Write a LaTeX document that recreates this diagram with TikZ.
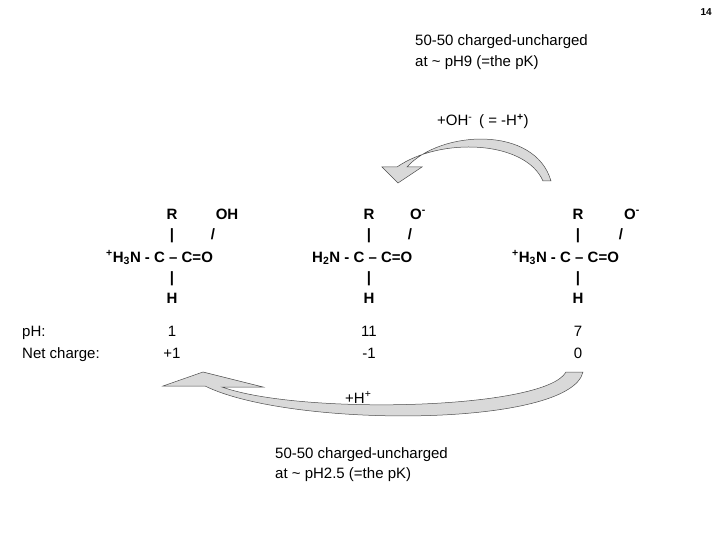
\documentclass[tikz,border=0pt]{standalone}
\usepackage{fontspec}
\setmainfont{Liberation Sans}
\begin{document}
\begin{tikzpicture}[x=1pt,y=-1pt,
  t/.style={inner sep=0pt,anchor=base west,font=\fontsize{15}{18}\selectfont},
  b/.style={inner sep=0pt,anchor=base,font=\bfseries\fontsize{15}{18}\selectfont},
  v/.style={inner sep=0pt,anchor=base,font=\fontsize{15}{18}\selectfont},
  arr/.style={draw=black!70,line width=0.5pt,fill=gray!30}]
\useasboundingbox (0,0) rectangle (720,540);
\node[inner sep=0pt,anchor=base east,font=\bfseries\fontsize{10}{12}\selectfont] (pg) at (712,16) {14};
\node[t] (t1) at (415,46) {50-50 charged-uncharged};
\node[t] (t2) at (415,67) {at \textasciitilde{} pH9 (=the pK)};
\node[t] (oh) at (437,126) {+OH\textsuperscript{-}\, ( = -H\textsuperscript{\textbf{+}})};
% top arrow
\filldraw[arr] (382,167) -- (398,183) -- (422,167) -- (407,167) .. controls (440,130) and (535,125) .. (551,181) -- (543,181) .. controls (525,140) and (440,137) .. (397,167) -- cycle;
% bottom arrow
\filldraw[arr] (163,386) -- (203,372) -- (263,387) -- (222,387) .. controls (300,415) and (545,410) .. (566,372) -- (583,372) .. controls (570,428) and (290,428) .. (205,386) -- cycle;
% left molecule
\node[b] (aR) at (172,219) {R};
\node[b] (aOH) at (227,219) {OH};
\node[b] (ab1) at (172,240) {|};
\node[b] (as1) at (213,240) {/};
\node[b,anchor=base west] (aM) at (106,262) {\textsuperscript{+}H\textsubscript{3}N - C -- C=O};
\node[b] (ab2) at (172,282) {|};
\node[b] (aH) at (172,303) {H};
% middle
\node[b] (bR) at (369,219) {R};
\node[b] (bO) at (418,219) {O\textsuperscript{-}};
\node[b] (bb1) at (369,240) {|};
\node[b] (bs1) at (410,240) {/};
\node[b,anchor=base west] (bM) at (312,262) {H\textsubscript{2}N - C -- C=O};
\node[b] (bb2) at (369,282) {|};
\node[b] (bH) at (369,303) {H};
% right
\node[b] (cR) at (578,219) {R};
\node[b] (cO) at (632,219) {O\textsuperscript{-}};
\node[b] (cb1) at (578,240) {|};
\node[b] (cs1) at (621,240) {/};
\node[b,anchor=base west] (cM) at (512,262) {\textsuperscript{+}H\textsubscript{3}N - C -- C=O};
\node[b] (cb2) at (578,282) {|};
\node[b] (cH) at (578,303) {H};
% values
\node[t] (ph) at (22,336) {pH:};
\node[t] (nc) at (22,358) {Net charge:};
\node[v] (v1) at (172,336) {1};
\node[v] (v2) at (369,336) {11};
\node[v] (v3) at (578,336) {7};
\node[v] (c1) at (172,358) {+1};
\node[v] (c2) at (369,358) {-1};
\node[v] (c3) at (578,358) {0};
\node[t] (hp) at (345,403) {+H\textsuperscript{+}};
\node[t] (u1) at (275,458) {50-50 charged-uncharged};
\node[t] (u2) at (275,478) {at \textasciitilde{} pH2.5 (=the pK)};
\end{tikzpicture}
\end{document}
